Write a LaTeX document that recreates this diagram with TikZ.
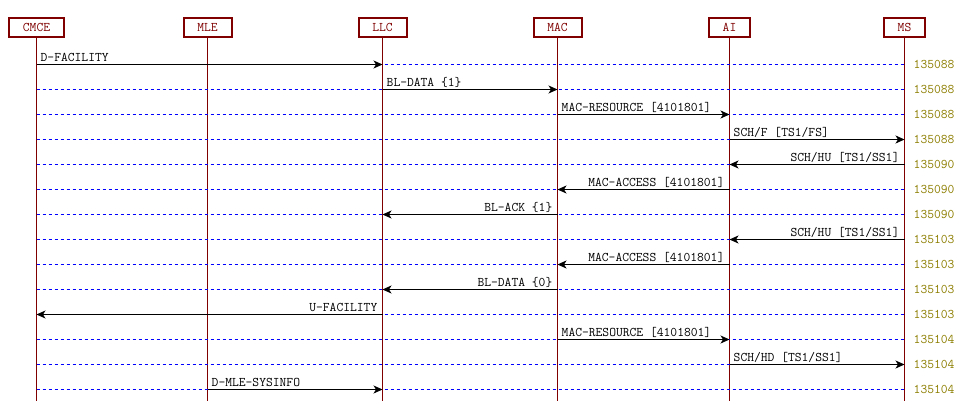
\documentclass[tikz,border=0pt]{standalone}
\usepackage{tikz}
\usetikzlibrary{arrows.meta}
\definecolor{lifered}{RGB}{128,0,0}
\definecolor{stampolive}{RGB}{140,125,0}
\newcommand*{\msgX}[6]{%
  \coordinate (r#1) at (0,{39.5+25*#1});
  \draw [timeline] (cmce |- r#1) -- (ms |- r#1);
  \draw [message] (#2 |- r#1) -- (#3 |- r#1);
  \node (m#1) [msglabel, #4] at (#2 |- r#1) {#5};
  \node (t#1) [stamp] at (ms |- r#1) {#6};
}

\begin{document}
\begin{tikzpicture}[x=1pt, y=-1pt,
    every node/.style={font=\ttfamily\fontsize{13.2}{15}\selectfont},
    head/.style={draw=lifered, line width=2pt, fill=white, text=lifered,
                 minimum height=19.6pt, inner xsep=13.8pt, inner ysep=0pt},
    lifeline/.style={draw=lifered, line width=1pt},
    timeline/.style={draw=blue, line width=1pt, dash pattern=on 3pt off 3pt},
    message/.style={draw=black, line width=1pt,
                    -{Stealth[length=9pt, width=8pt, inset=2.5pt]}},
    msglabel/.style={inner sep=0pt, yshift=3pt},
    goright/.style={anchor=base west, xshift=4pt},
    goleft/.style={anchor=base east, xshift=-5pt},
    stamp/.style={anchor=west, inner sep=0pt, xshift=9pt, text=stampolive}]

\useasboundingbox (0,0) rectangle (960,401);
\coordinate (bottom) at (0,401);

\node (cmce) [head] at (36.5,27.5)  {CMCE};
\node (mle)  [head] at (207.5,27.5) {MLE};
\node (llc)  [head] at (382.5,27.5) {LLC};
\node (mac)  [head] at (557.5,27.5) {MAC};
\node (ai)   [head] at (729.5,27.5) {AI};
\node (ms)   [head] at (904.5,27.5) {MS};

\draw [lifeline] (cmce.south) -- (cmce |- bottom);
\draw [lifeline] (mle.south)  -- (mle |- bottom);
\draw [lifeline] (llc.south)  -- (llc |- bottom);
\draw [lifeline] (mac.south)  -- (mac |- bottom);
\draw [lifeline] (ai.south)   -- (ai |- bottom);
\draw [lifeline] (ms.south)   -- (ms |- bottom);
%
\msgX{1}{cmce}{llc}{goright}{D-FACILITY}{135088}
\msgX{2}{llc}{mac}{goright}{BL-DATA \{1\}}{135088}
\msgX{3}{mac}{ai}{goright}{MAC-RESOURCE [4101801]}{135088}
\msgX{4}{ai}{ms}{goright}{SCH/F [TS1/FS]}{135088}
\msgX{5}{ms}{ai}{goleft}{SCH/HU [TS1/SS1]}{135090}
\msgX{6}{ai}{mac}{goleft}{MAC-ACCESS [4101801]}{135090}
\msgX{7}{mac}{llc}{goleft}{BL-ACK \{1\}}{135090}
\msgX{8}{ms}{ai}{goleft}{SCH/HU [TS1/SS1]}{135103}
\msgX{9}{ai}{mac}{goleft}{MAC-ACCESS [4101801]}{135103}
\msgX{10}{mac}{llc}{goleft}{BL-DATA \{0\}}{135103}
\msgX{11}{llc}{cmce}{goleft}{U-FACILITY}{135103}
\msgX{12}{mac}{ai}{goright}{MAC-RESOURCE [4101801]}{135104}
\msgX{13}{ai}{ms}{goright}{SCH/HD [TS1/SS1]}{135104}
\msgX{14}{mle}{llc}{goright}{D-MLE-SYSINFO}{135104}
\end{tikzpicture}
\end{document}
